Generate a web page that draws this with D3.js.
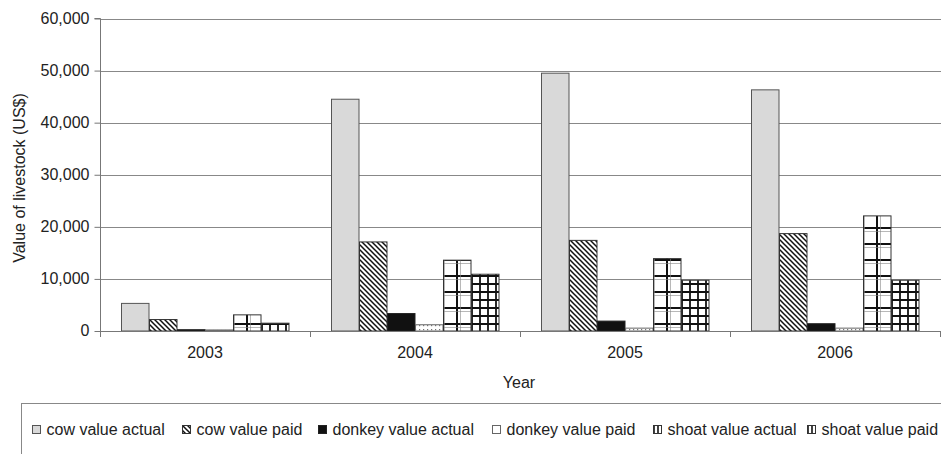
<!DOCTYPE html>
<html><head><meta charset="utf-8">
<script src="https://cdn.jsdelivr.net/npm/d3@7"></script>
<style>html,body{margin:0;padding:0;background:#fff;}svg{display:block;font-family:"Liberation Sans",Arial,sans-serif;}</style>
</head><body>
<svg id="c" width="941" height="454"></svg>
<script>
const years = ["2003","2004","2005","2006"];
const seriesNames = ["cow value actual","cow value paid","donkey value actual","donkey value paid","shoat value actual","shoat value paid"];
const cowActual    = [5300, 44500, 49500, 46300];
const cowPaid      = [2200, 17100, 17400, 18700];
const donkeyActual = [250, 3350, 1900, 1400];
const donkeyPaid   = [200, 1200, 550, 550];
const shoatActual  = [3100, 13600, 13900, 22100];
const shoatPaid    = [1500, 10900, 9750, 9750];
const yTicks = [0,10000,20000,30000,40000,50000,60000];

const seriesValues = [cowActual,cowPaid,donkeyActual,donkeyPaid,shoatActual,shoatPaid];
const svg = d3.select("#c");
const defs = svg.append("defs");
const FONT = "'Liberation Sans',Arial,sans-serif";

// patterns
const pHatch = defs.append("pattern").attr("id","hatch").attr("patternUnits","userSpaceOnUse").attr("width",5).attr("height",5);
pHatch.append("rect").attr("width",5).attr("height",5).attr("fill","#fff");
pHatch.append("path").attr("d","M-1,-1L6,6M-1,4L1,6M4,-1L6,1").attr("stroke","#111").attr("stroke-width",1.5);

const pDot = defs.append("pattern").attr("id","dots").attr("patternUnits","userSpaceOnUse").attr("width",4).attr("height",4);
pDot.append("rect").attr("width",4).attr("height",4).attr("fill","#fff");
pDot.append("rect").attr("x",1).attr("y",1).attr("width",1.2).attr("height",1.2).attr("fill","#777");

const pBig = defs.append("pattern").attr("id","bigGrid").attr("patternUnits","userSpaceOnUse").attr("width",16).attr("height",16).attr("x",2).attr("y",3);
pBig.append("rect").attr("width",16).attr("height",16).attr("fill","#fff");
pBig.append("path").attr("d","M1,0V16M0,1H16").attr("stroke","#111").attr("stroke-width",2);
pBig.append("path").attr("d","M4.5,0V16M0,4.5H16").attr("stroke","#888").attr("stroke-width",0.6);

const pSmall = defs.append("pattern").attr("id","smallGrid").attr("patternUnits","userSpaceOnUse").attr("width",8).attr("height",8).attr("x",1).attr("y",3);
pSmall.append("rect").attr("width",8).attr("height",8).attr("fill","#fff");
pSmall.append("path").attr("d","M1,0V8M0,1H8").attr("stroke","#111").attr("stroke-width",1.8);

// legend-sized patterns
const lBig = defs.append("pattern").attr("id","lBig").attr("patternUnits","userSpaceOnUse").attr("width",4).attr("height",9);
lBig.append("rect").attr("width",4).attr("height",9).attr("fill","#fff");
lBig.append("path").attr("d","M1,0V9").attr("stroke","#111").attr("stroke-width",1.6);

const fills = ["#d9d9d9","url(#hatch)","#111","url(#dots)","url(#bigGrid)","url(#smallGrid)"];
const legFills = ["#d9d9d9","url(#hatch)","#111","#fff","url(#lBig)","url(#lBig)"];
const strokes = ["#555","#333","#222","#666","#333","#333"];

const x0 = d3.scaleBand().domain(years).range([100,940]).paddingInner(0).paddingOuter(0);
const x1 = d3.scaleBand().domain(seriesNames).range([0,x0.bandwidth()]).paddingInner(0).paddingOuter(0.75);
const y = d3.scaleLinear().domain([0,60000]).range([331,18.5]);

// gridlines
svg.append("g").selectAll("line").data(yTicks.filter(d=>d>0)).join("line")
  .attr("x1",100).attr("x2",941).attr("y1",d=>Math.round(y(d))+0.5).attr("y2",d=>Math.round(y(d))+0.5)
  .attr("stroke","#888").attr("stroke-width",1);

// bars
const groups = svg.append("g").selectAll("g").data(years).join("g")
  .attr("transform",d=>`translate(${x0(d)},0)`);
groups.selectAll("rect").data((yr,i)=>seriesNames.map((s,k)=>({s,k,v:seriesValues[k][i]}))).join("rect")
  .attr("x",d=>x1(d.s)+0.5).attr("width",x1.bandwidth()-0.5)
  .attr("y",d=>y(d.v)).attr("height",d=>y(0)-y(d.v))
  .attr("fill",d=>fills[d.k]).attr("stroke",d=>strokes[d.k]).attr("stroke-width",1);

// y axis
const yAxis = d3.axisLeft(y).tickValues(yTicks).tickSize(6).tickPadding(5).tickFormat(d3.format(","));
const ga = svg.append("g").attr("transform","translate(100.5,0)").call(yAxis);
ga.select(".domain").attr("stroke","#777").attr("d","M-6,18.5H0V337");
ga.selectAll(".tick line").attr("stroke","#777");
ga.selectAll(".tick text").attr("fill","#222").attr("dy","0.3em").style("font-size","16px").style("font-family",FONT);

// x axis
const xAxis = d3.axisBottom(x0).tickSize(0).tickPadding(15);
const gx = svg.append("g").attr("transform","translate(0,331.5)").call(xAxis);
gx.select(".domain").attr("stroke","#777").attr("d","M100,0H941");
gx.selectAll(".tick text").attr("fill","#222").style("font-size","16px").style("font-family",FONT);
svg.append("g").selectAll("line").data(years).join("line")
  .attr("x1",d=>Math.round(x0(d)+x0.bandwidth())+0.5).attr("x2",d=>Math.round(x0(d)+x0.bandwidth())+0.5)
  .attr("y1",331).attr("y2",337).attr("stroke","#777");

// titles
svg.append("text").attr("x",519).attr("y",388).attr("text-anchor","middle").attr("fill","#222").style("font-size","16px").text("Year");
svg.append("text").attr("transform","translate(25,178) rotate(-90)").attr("text-anchor","middle").attr("fill","#222").style("font-size","16px").text("Value of livestock (US$)");

// legend
svg.append("rect").attr("x",21.5).attr("y",403.5).attr("width",930).attr("height",60).attr("fill","none").attr("stroke","#888");
const legX = [32,182,318,492,653,807];
const leg = svg.append("g").selectAll("g").data(seriesNames).join("g")
  .attr("transform",(d,i)=>`translate(${legX[i]},425)`);
leg.append("rect").attr("x",0.5).attr("y",0.5).attr("width",8).attr("height",8)
  .attr("fill",(d,i)=>legFills[i]).attr("stroke",(d,i)=>strokes[i]);
leg.append("text").attr("x",14.5).attr("y",10).attr("fill","#222").style("font-size","16px").text(d=>d);
</script>
</body></html>
